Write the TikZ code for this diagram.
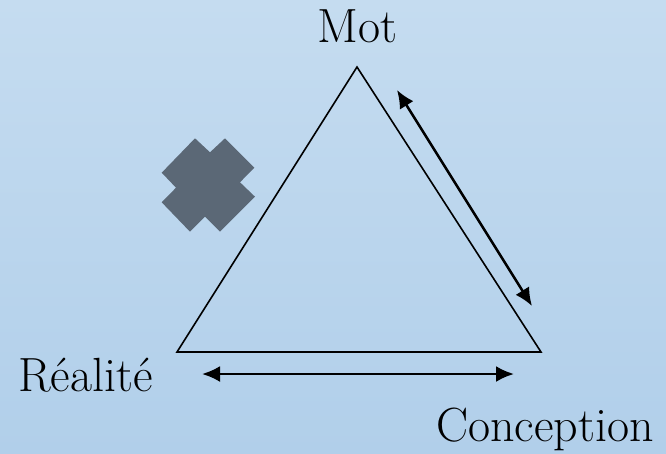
\documentclass[tikz,border=0pt]{standalone}
\usetikzlibrary{arrows.meta}
\definecolor{bgtop}{HTML}{C5DCF0}
\definecolor{bgbot}{HTML}{B1CFEA}
\definecolor{crossc}{HTML}{5B6876}
\begin{document}
\begin{tikzpicture}[x=1pt,y=-1pt,
  lbl/.style={inner sep=0pt,font=\rmfamily\fontsize{48}{58}\selectfont},
  tri/.style={draw=black,line width=1.6pt,line join=miter},
  dbl/.style={line width=2.5pt,{Latex[length=18pt,width=16pt]}-{Latex[length=18pt,width=16pt]}},
  xmark/.style={fill=crossc,draw=none}]
\shade[top color=bgtop,bottom color=bgbot] (0,0) rectangle (666,453);
\useasboundingbox (0,0) rectangle (666,453);
% triangle corners
\coordinate (apex) at (357,67);
\coordinate (left) at (177,352);
\coordinate (right) at (541,352);
\draw[tri] (apex) -- (left) -- (right) -- cycle;
% labels
\node[lbl,anchor=base] (mot) at (357.5,42) {Mot};
\node[lbl,anchor=base west] (real) at (18,391) {Réalité};
\node[lbl,anchor=base west] (conc) at (436,441) {Conception};
% arrows
\coordinate (a1) at (397,90);
\coordinate (a2) at (532,306);
\draw[dbl] (a1) -- (a2);
\coordinate (b1) at (202,374);
\coordinate (b2) at (514,374);
\draw[dbl] (b1) -- (b2);
% cross
\fill[xmark] (195,138.3) -- (210,152.3) -- (225,138.3) -- (254.3,167.7)
  -- (240,182.3) -- (255,196.7) -- (220,231.7) -- (205,216.7) -- (190,231.7)
  -- (161.7,202.3) -- (176,187.7) -- (161.7,172.7) -- cycle;
\end{tikzpicture}
\end{document}
